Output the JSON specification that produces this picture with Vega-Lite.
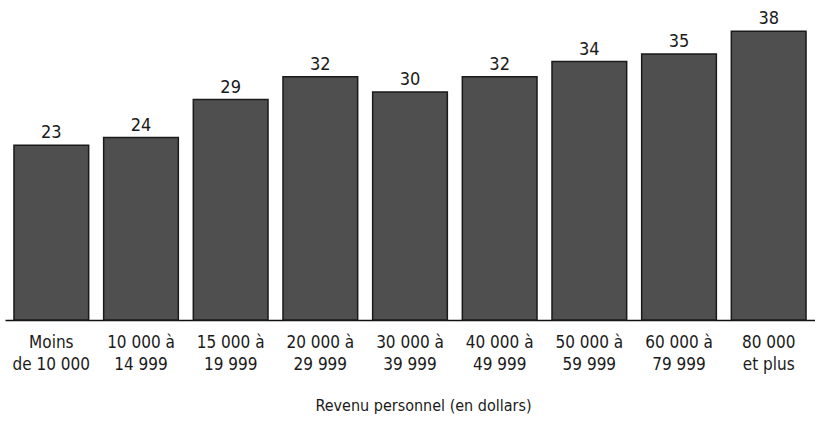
{
  "$schema": "https://vega.github.io/schema/vega-lite/v6.json",
  "autosize": "none",
  "width": 810,
  "height": 304,
  "padding": {"left": 5, "top": 16, "right": 0, "bottom": 103},
  "background": "white",
  "config": {"view": {"stroke": null}, "font": "'DejaVu Sans Condensed', Roboto, sans-serif"},
  "data": {"values": [
    {"revenu": "Moins\nde 10 000", "pct": 23},
    {"revenu": "10 000 à\n14 999", "pct": 24},
    {"revenu": "15 000 à\n19 999", "pct": 29},
    {"revenu": "20 000 à\n29 999", "pct": 32},
    {"revenu": "30 000 à\n39 999", "pct": 30},
    {"revenu": "40 000 à\n49 999", "pct": 32},
    {"revenu": "50 000 à\n59 999", "pct": 34},
    {"revenu": "60 000 à\n79 999", "pct": 35},
    {"revenu": "80 000\net plus", "pct": 38}
  ]},
  "encoding": {
    "x": {"field": "revenu", "type": "nominal", "sort": null,
      "scale": {"paddingInner": 0.167, "paddingOuter": 0.1},
      "axis": {"labelAngle": 0, "labelExpr": "split(datum.value, '\\n')", "labelFontSize": 17, "labelLineHeight": 22, "labelColor": "#1a1a1a", "labelPadding": 14, "ticks": false, "domainColor": "#111", "domainWidth": 1.5, "title": "Revenu personnel (en dollars)", "titleFontSize": 16, "titleFontWeight": "normal", "titleColor": "#1a1a1a", "titleY": 85, "titleX": 418, "titleBaseline": "middle"}},
    "y": {"field": "pct", "type": "quantitative", "scale": {"domain": [0, 40]}, "axis": null}
  },
  "layer": [
    {"mark": {"type": "bar", "color": "#4f4f4f", "stroke": "#1a1a1a", "strokeWidth": 1.5}},
    {"mark": {"type": "text", "dy": -12, "fontSize": 18, "color": "#1a1a1a"}, "encoding": {"text": {"field": "pct", "type": "quantitative"}}}
  ]
}
